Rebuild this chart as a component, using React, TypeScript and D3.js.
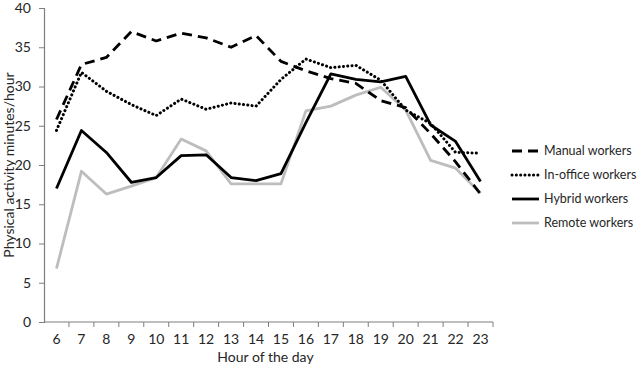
import React, { useRef, useEffect } from 'react';
import * as d3 from 'd3';

const hours = [6, 7, 8, 9, 10, 11, 12, 13, 14, 15, 16, 17, 18, 19, 20, 21, 22, 23];
const manual = [25.8, 32.8, 33.7, 37.0, 35.8, 36.8, 36.2, 35.0, 36.5, 33.2, 32.0, 31.0, 30.4, 28.2, 27.3, 24.0, 20.4, 16.3];
const inOffice = [24.4, 31.8, 29.4, 27.7, 26.3, 28.4, 27.1, 27.9, 27.5, 30.9, 33.5, 32.4, 32.7, 30.8, 27.0, 25.3, 21.6, 21.5];
const hybrid = [17.0, 24.4, 21.6, 17.8, 18.4, 21.2, 21.3, 18.4, 18.0, 18.9, 25.4, 31.6, 30.9, 30.6, 31.3, 25.1, 23.0, 17.9];
const remote = [6.8, 19.2, 16.3, 17.3, 18.4, 23.3, 21.8, 17.6, 17.6, 17.6, 26.9, 27.5, 28.9, 29.9, 27.0, 20.6, 19.6, 16.4];
const yTicks = [0, 5, 10, 15, 20, 25, 30, 35, 40];

const series = [
  { name: 'Manual workers', values: manual, color: '#000', dash: '10,6', width: 2.8, cap: 'butt' },
  { name: 'In-office workers', values: inOffice, color: '#000', dash: '0.1,4.2', width: 3, cap: 'round' },
  { name: 'Hybrid workers', values: hybrid, color: '#000', dash: null, width: 2.8, cap: 'butt' },
  { name: 'Remote workers', values: remote, color: '#bdbdbd', dash: null, width: 2.8, cap: 'butt' },
];

const App = () => {
  const ref = useRef<SVGSVGElement>(null);

  useEffect(() => {
    const width = 640;
    const height = 367;
    const margin = { top: 8, left: 44, right: 147, bottom: 45 };
    const font = "Lato, 'Noto Sans', sans-serif";

    const svg = d3.select(ref.current);
    svg.selectAll('*').remove();
    svg.attr('width', width).attr('height', height);

    const x = d3.scaleBand<number>()
      .domain(hours)
      .range([margin.left, width - margin.right]);

    const y = d3.scaleLinear()
      .domain([0, 40])
      .range([height - margin.bottom, margin.top]);

    const axisColor = '#7f7f7f';
    const textColor = '#262626';

    // y axis
    const yAxis = svg.append('g')
      .attr('transform', `translate(${margin.left},0)`)
      .call(d3.axisLeft(y).tickValues(yTicks).tickSize(5).tickPadding(8));
    yAxis.select('.domain').attr('stroke', axisColor).attr('stroke-width', 1.2);
    yAxis.selectAll('.tick line').attr('stroke', axisColor);
    yAxis.selectAll('.tick text')
      .attr('fill', textColor)
      .style('font-family', font)
      .style('font-size', '14px');

    // x axis, ticks between categories
    const y0 = y(0);
    const xg = svg.append('g');
    xg.append('line')
      .attr('x1', margin.left).attr('x2', width - margin.right)
      .attr('y1', y0).attr('y2', y0)
      .attr('stroke', axisColor).attr('stroke-width', 1.2);
    const bounds = hours.map(h => x(h) as number).concat([width - margin.right]);
    xg.selectAll('.xtick')
      .data(bounds.slice(1))
      .enter()
      .append('line')
      .attr('x1', d => d).attr('x2', d => d)
      .attr('y1', y0).attr('y2', y0 + 5)
      .attr('stroke', axisColor);
    xg.selectAll('.xlabel')
      .data(hours)
      .enter()
      .append('text')
      .attr('x', d => (x(d) as number) + x.bandwidth() / 2)
      .attr('y', y0 + 22)
      .attr('text-anchor', 'middle')
      .attr('fill', textColor)
      .style('font-family', font)
      .style('font-size', '14px')
      .text(d => d);

    svg.append('text')
      .attr('x', (margin.left + width - margin.right) / 2 - 3)
      .attr('y', height - 5)
      .attr('text-anchor', 'middle')
      .attr('fill', textColor)
      .style('font-family', font)
      .style('font-size', '14px')
      .text('Hour of the day');

    svg.append('text')
      .attr('transform', `translate(14,${(margin.top + y0) / 2}) rotate(-90)`)
      .attr('text-anchor', 'middle')
      .attr('fill', textColor)
      .style('font-family', font)
      .style('font-size', '14px')
      .text('Physical activity minutes/hour');

    const line = d3.line<number>()
      .x((d, i) => (x(hours[i]) as number) + x.bandwidth() / 2)
      .y(d => y(d));

    // draw remote first so black lines sit on top
    [3, 0, 1, 2].forEach(k => {
      const s = series[k];
      svg.append('path')
        .datum(s.values)
        .attr('fill', 'none')
        .attr('stroke', s.color)
        .attr('stroke-width', s.width)
        .attr('stroke-linecap', s.cap)
        .attr('stroke-linejoin', 'round')
        .attr('stroke-dasharray', s.dash)
        .attr('d', line);
    });

    // legend
    const legend = svg.append('g').attr('transform', 'translate(512,151)');
    series.forEach((s, i) => {
      const g = legend.append('g').attr('transform', `translate(0,${i * 24})`);
      g.append('line')
        .attr('x1', 0).attr('x2', 27)
        .attr('y1', 0).attr('y2', 0)
        .attr('stroke', s.color)
        .attr('stroke-width', s.width)
        .attr('stroke-linecap', s.cap)
        .attr('stroke-dasharray', s.dash);
      g.append('text')
        .attr('x', 32)
        .attr('y', 0)
        .attr('dy', '0.35em')
        .attr('fill', textColor)
        .style('font-family', font)
        .style('font-size', '12.5px')
        .text(s.name);
    });
  }, []);

  return (
    <svg ref={ref} style={{ position: 'absolute', left: 0, top: 0 }}></svg>
  );
};

export default App;
